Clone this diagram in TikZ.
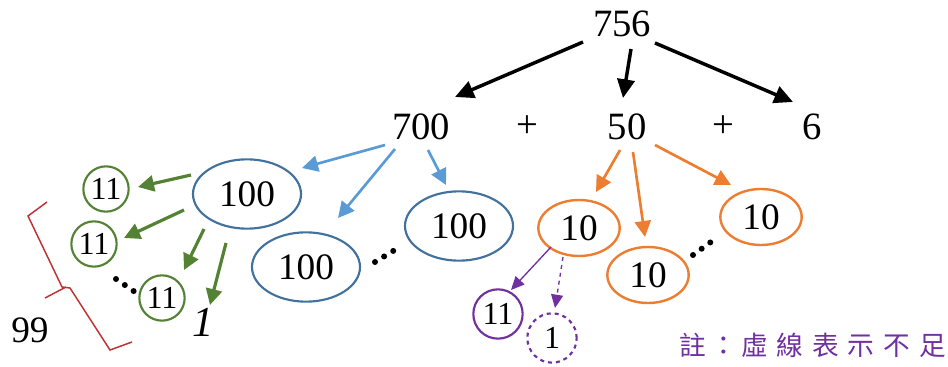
\documentclass[tikz,border=0pt]{standalone}
\usepackage{fontspec}
\setmainfont{Liberation Serif}
\newfontfamily\cjkfont{Noto Sans CJK TC}
\usetikzlibrary{arrows.meta,shapes.geometric}
\definecolor{steel}{RGB}{65,113,156}
\definecolor{skyarrow}{RGB}{91,155,213}
\definecolor{leaf}{RGB}{84,130,53}
\definecolor{tangerine}{RGB}{237,125,49}
\definecolor{violet}{RGB}{112,48,160}
\definecolor{brick}{RGB}{190,50,50}
\tikzset{
  num/.style={font=\fontsize{29}{32}\selectfont, inner sep=0pt},
  bigarrow/.style={line width=2.6pt, -{Triangle[length=14pt,width=13pt]}},
  midarrow/.style={line width=2.4pt, -{Triangle[length=12pt,width=12pt]}},
  thinarrow/.style={line width=1pt, -{Triangle[length=10pt,width=9pt]}},
  blueoval/.style={ellipse, draw=steel, line width=1.6pt, minimum width=81pt, minimum height=52pt, inner sep=0pt, font=\fontsize{28}{30}\selectfont},
  orangeoval/.style={ellipse, draw=tangerine, line width=1.8pt, minimum width=61pt, minimum height=42pt, inner sep=0pt, font=\fontsize{28}{30}\selectfont},
  ring/.style={circle, draw, line width=1.6pt, minimum size=34pt, inner sep=0pt, font=\fontsize{24}{26}\selectfont},
  dotrow/.style={line width=4.5pt, dash pattern=on 0pt off 8pt, line cap=round},
}
\begin{document}
\begin{tikzpicture}[x=0.75pt, y=-0.75pt]
\useasboundingbox (0,0) rectangle (948,367);

% top level split
\node[num] (n756) at (622,24) {756};
\node[num] (n700) at (421,127) {700};
\node[num] (p1) at (527,127) {+};
\node[num] (n50) at (627,127) {50};
\node[num] (p2) at (723,127) {+};
\node[num] (n6) at (812,127) {6};
\coordinate (a1s) at (583,42);  \coordinate (a1e) at (455,97);
\coordinate (a2s) at (631,49);  \coordinate (a2e) at (623,98);
\coordinate (a3s) at (655,43);  \coordinate (a3e) at (793,102);
\draw[bigarrow] (a1s) -- (a1e);
\draw[bigarrow] (a2s) -- (a2e);
\draw[bigarrow] (a3s) -- (a3e);

% hundreds
\node[blueoval] (h1) at (247,194) {100};
\node[blueoval] (h2) at (306,267) {100};
\node[blueoval] (h3) at (459,226) {100};
\coordinate (d1s) at (375,262);
\coordinate (d1e) at (398,248);
\draw[dotrow] (d1s) -- (d1e);
\coordinate (b1s) at (385,145); \coordinate (b1e) at (302,168);
\coordinate (b2s) at (395,149); \coordinate (b2e) at (338,218);
\coordinate (b3s) at (428,150); \coordinate (b3e) at (446,185);
\draw[skyarrow, midarrow, line width=2pt] (b1s) -- (b1e);
\draw[skyarrow, midarrow, line width=2pt] (b2s) -- (b2e);
\draw[skyarrow, midarrow, line width=2pt] (b3s) -- (b3e);

% elevens from one hundred
\node[ring, draw=leaf] (e1) at (106,189) {11};
\node[ring, draw=leaf] (e2) at (94,244) {11};
\node[ring, draw=leaf] (e3) at (162,298) {11};
\node[font=\itshape\fontsize{32}{34}\selectfont, inner sep=0pt] (one) at (203,322) {1};
\coordinate (g1s) at (191,175); \coordinate (g1e) at (138,187);
\coordinate (g2s) at (184,210); \coordinate (g2e) at (124,238);
\coordinate (g3s) at (204,229); \coordinate (g3e) at (184,270);
\coordinate (g4s) at (226,243); \coordinate (g4e) at (210,305);
\draw[leaf, midarrow] (g1s) -- (g1e);
\draw[leaf, midarrow] (g2s) -- (g2e);
\draw[leaf, midarrow] (g3s) -- (g3e);
\draw[leaf, midarrow] (g4s) -- (g4e);
\coordinate (d2s) at (116,279);
\coordinate (d2e) at (135,292);
\draw[dotrow] (d2s) -- (d2e);

% bracket counting the elevens
\draw[brick, line width=1.1pt]
  (47,202) -- (28,216) -- (62,287) -- (70,288) -- (110,350) -- (132,342);
\draw[brick, line width=1.1pt] (66,287) -- (45,298);
\node[font=\fontsize{28}{30}\selectfont, inner sep=0pt] (c99) at (30,330) {99};

% tens
\node[orangeoval] (t1) at (579,228) {10};
\node[orangeoval] (t2) at (648,275) {10};
\node[orangeoval] (t3) at (761,217) {10};
\coordinate (d3s) at (693,255);
\coordinate (d3e) at (715,239);
\draw[dotrow] (d3s) -- (d3e);
\coordinate (o1s) at (620,150); \coordinate (o1e) at (596,192);
\coordinate (o2s) at (633,152); \coordinate (o2e) at (645,237);
\coordinate (o3s) at (655,145); \coordinate (o3e) at (731,185);
\draw[tangerine, midarrow, line width=2pt] (o1s) -- (o1e);
\draw[tangerine, midarrow, line width=2pt] (o2s) -- (o2e);
\draw[tangerine, midarrow, line width=2pt] (o3s) -- (o3e);

% remainder of one ten
\node[ring, draw=violet, minimum size=37pt] (r11) at (498,314) {11};
\node[ring, draw=violet, dashed, minimum size=37pt] (r1) at (552,338) {1};
\coordinate (v1s) at (551,247); \coordinate (v1e) at (511,290);
\coordinate (v2s) at (563,257); \coordinate (v2e) at (555,308);
\draw[violet, thinarrow] (v1s) -- (v1e);
\draw[violet, thinarrow, dashed] (v2s) -- (v2e);

% note
\node[font=\cjkfont\fontsize{20}{22}\selectfont, text=violet, inner sep=0pt, anchor=east] (note) at (946,345) {註\,：\,虛\,\,線\,\,表\,\,示\,\,不\,\,足};
\end{tikzpicture}
\end{document}
